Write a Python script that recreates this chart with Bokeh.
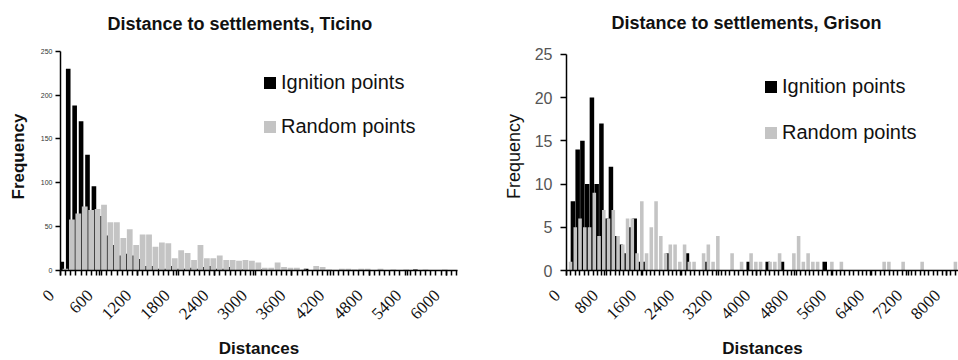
import math
from bokeh.plotting import figure
from bokeh.models import ColumnDataSource, Range1d, FixedTicker, Legend, LegendItem
from bokeh.layouts import row
from bokeh.embed import file_html
from bokeh.resources import INLINE

# ---------------- data (histogram counts per 100 m distance bin) ----------------
BIN_WIDTH = 100

ticino_ignition = [10, 230, 188, 170, 132, 96, 62, 40, 29, 17, 19, 17, 13, 5, 5, 2, 2, 5, 2, 2,
                   3, 2, 4, 5, 2, 2, 4, 0, 1, 0, 0, 1, 0, 0, 0, 0, 0, 0, 2, 0,
                   0, 0, 0, 0, 0, 0, 0, 0, 0, 0, 0, 0, 0, 0, 0, 1]
ticino_random = [2, 58, 65, 73, 69, 70, 75, 55, 55, 37, 47, 29, 41, 41, 27, 32, 31, 14, 23, 20,
                 12, 29, 14, 14, 17, 12, 12, 11, 12, 11, 9, 3, 3, 9, 4, 3, 3, 1, 0, 5,
                 4, 1, 0, 2, 2, 1, 2, 2, 0, 2, 0, 1, 0, 1, 0, 0, 1, 0, 0, 1]

grison_ignition = [0, 8, 14, 15, 10, 20, 10, 17, 6, 12, 4, 3, 2, 5, 6, 1, 1, 0, 0, 0,
                   0, 2, 0, 0, 0, 2, 0, 0, 0, 1, 0, 0, 0, 0, 0, 0, 0, 0, 1, 0,
                   0, 0, 1, 0, 0, 1, 0, 0, 0, 0, 0, 0, 0, 0, 1]
grison_random = [1, 5, 6, 5, 5, 9, 4, 7, 6, 7, 4, 3, 6, 6, 2, 8, 2, 5, 8, 4,
                 2, 3, 3, 1, 3, 1, 1, 0, 2, 3, 1, 4, 0, 0, 2, 0, 1, 0, 2, 1,
                 1, 0, 1, 1, 2, 0, 0, 2, 4, 1, 2, 1, 1, 0, 0, 1, 0, 1, 0, 0,
                 0, 0, 0, 0, 0, 0, 1, 1, 0, 0, 1, 0, 0, 0, 1, 0, 0, 0, 0, 0,
                 0, 1]

ticino_xticks = [0, 600, 1200, 1800, 2400, 3000, 3600, 4200, 4800, 5400, 6000]
grison_xticks = [0, 800, 1600, 2400, 3200, 4000, 4800, 5600, 6400, 7200, 8000]
ticino_yticks = [0, 50, 100, 150, 200, 250]
grison_yticks = [0, 5, 10, 15, 20, 25]

series_labels = ["Ignition points", "Random points"]
titles = ["Distance to settlements, Ticino", "Distance to settlements, Grison"]

BLACK = "#000000"
GREY = "#c4c4c4"
NBSP = "\u00a0"


def bin_source(counts, offset):
    return ColumnDataSource(dict(x=[k * BIN_WIDTH + offset for k in range(len(counts))],
                                 top=counts))


def make_hist(title, ign, rnd, x_end, y_end, xticks, yticks, minor_step, st):
    p = figure(width=st["width"], height=360, output_backend="svg", toolbar_location=None,
               x_range=Range1d(0, x_end), y_range=Range1d(0, y_end),
               min_border_left=st["bl"], min_border_right=st["br"],
               min_border_top=st["bt"], min_border_bottom=st["bb"])
    p.xgrid.grid_line_color = None
    p.ygrid.grid_line_color = None
    p.outline_line_color = None

    rb = p.vbar(x="x", top="top", width=st["wb"], bottom=0, source=bin_source(ign, st["ob"]),
                fill_color=BLACK, line_color=None)
    rg = p.vbar(x="x", top="top", width=st["wg"], bottom=0, source=bin_source(rnd, st["og"]),
                fill_color=GREY, line_color=None)

    # title
    p.title.text = title
    p.title.text_font = "Liberation Sans"
    p.title.text_font_size = "18px"
    p.title.text_font_style = "bold"
    p.title.text_color = "#111111"
    p.title.align = "left"
    p.title.offset = st["toff"]
    p.title.standoff = st["tstand"]

    # x axis
    xa = p.xaxis[0]
    xa.ticker = FixedTicker(ticks=xticks, minor_ticks=list(range(0, int(x_end), minor_step)))
    xa.major_label_overrides = {t: f"{t}" + NBSP * 3 for t in xticks}
    xa.major_label_orientation = math.pi / 4
    xa.major_label_text_font = "Liberation Serif"
    xa.major_label_text_font_size = "17px"
    xa.major_label_text_color = "#111111"
    xa.major_label_standoff = 8
    xa.axis_label = "Distances"
    xa.axis_label_text_font = "Liberation Sans"
    xa.axis_label_text_font_size = "17px"
    xa.axis_label_text_font_style = "bold"
    xa.axis_label_text_color = "#111111"
    xa.axis_label_standoff = 6
    xa.axis_line_width = 1.5
    xa.major_tick_line_width = 1.5
    xa.minor_tick_line_width = 1.5
    xa.major_tick_in = 0
    xa.major_tick_out = 5
    xa.minor_tick_in = 0
    xa.minor_tick_out = 5

    # y axis (axis line limited to the top tick)
    ya = p.yaxis[0]
    ya.ticker = FixedTicker(ticks=yticks)
    ya.bounds = (yticks[0], yticks[-1])
    ya.minor_tick_line_color = None
    ya.major_tick_in = 0
    ya.major_tick_out = st["ytick"]
    ya.major_tick_line_width = 1.5
    ya.axis_line_width = 1.5
    ya.major_label_text_font = "Liberation Sans"
    ya.major_label_text_font_size = st["ylab_size"]
    ya.major_label_text_color = st["ylab_color"]
    ya.major_label_standoff = st["ylab_stand"]
    ya.axis_label = "Frequency"
    ya.axis_label_text_font = "Liberation Sans"
    ya.axis_label_text_font_size = st["ytitle_size"]
    ya.axis_label_text_font_style = st["ytitle_style"]
    ya.axis_label_text_color = "#111111"
    ya.axis_label_standoff = st["ytitle_stand"]

    legend = Legend(items=[LegendItem(label=series_labels[0], renderers=[rb]),
                           LegendItem(label=series_labels[1], renderers=[rg])],
                    location=st["legloc"])
    legend.background_fill_alpha = 0
    legend.border_line_color = None
    legend.padding = 0
    legend.margin = 0
    legend.glyph_width = 15
    legend.glyph_height = 15
    legend.label_height = 15
    legend.label_standoff = 4
    legend.spacing = st["legspace"]
    legend.label_text_font = "Liberation Sans"
    legend.label_text_font_size = "20px"
    legend.label_text_color = "#111111"
    p.add_layout(legend)
    return p


left_style = dict(width=480, bl=60, br=23, bt=40, bb=83, wb=72, ob=20, wg=90, og=77,
                  toff=47, tstand=18, ytick=5, ylab_size="7px", ylab_color="#333333",
                  ylab_stand=3, ytitle_size="17px", ytitle_style="bold", ytitle_stand=10,
                  legloc=(202, 132), legspace=21)
right_style = dict(width=478, bl=86, br=0, bt=41, bb=83, wb=95, ob=35, wg=75, og=85,
                   toff=45, tstand=20, ytick=6, ylab_size="16px", ylab_color="#555555",
                   ylab_stand=8, ytitle_size="18px", ytitle_style="normal", ytitle_stand=8,
                   legloc=(197, 126), legspace=23)

p1 = make_hist(titles[0], ticino_ignition, ticino_random, 6175, 259.9,
               ticino_xticks, ticino_yticks, 80, left_style)
p2 = make_hist(titles[1], grison_ignition, grison_random, 8250, 26.37,
               grison_xticks, grison_yticks, 93, right_style)

layout = row(p1, p2)
open("out.html", "w").write(file_html(layout, INLINE))
